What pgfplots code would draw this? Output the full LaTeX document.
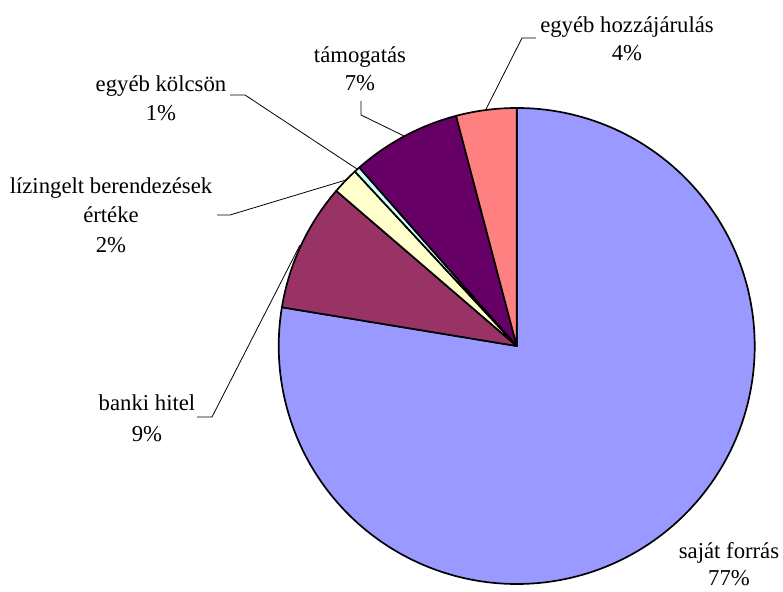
\documentclass[border=0pt]{standalone}
\usepackage{fontspec}
\setmainfont{Liberation Serif}
\usepackage{pgfplots}
\usepackage{pgfplotstable}
\pgfplotsset{compat=1.18}

\definecolor{slice1}{HTML}{9999FF}
\definecolor{slice2}{HTML}{993366}
\definecolor{slice3}{HTML}{FFFFCC}
\definecolor{slice4}{HTML}{CCFFFF}
\definecolor{slice5}{HTML}{660066}
\definecolor{slice6}{HTML}{FF8080}

% shares in percent, clockwise from 12 o'clock
\pgfplotstableread{
share colour
77.6  slice1
8.7   slice2
1.8   slice3
0.4   slice4
7.4   slice5
4.1   slice6
}\piedata
\pgfplotstablecreatecol[create col/expr={\pgfmathaccuma + \thisrow{share}}]{cum}\piedata

\newcommand{\lbl}[3]{\node[anchor=base, inner sep=0pt] at (axis cs:#1,#2) {#3};}

\begin{document}
\begin{tikzpicture}[every node/.append style={font=\fontsize{22.8}{28}\selectfont}]
\useasboundingbox (0,0) rectangle (783bp,592bp);
\begin{axis}[
    hide axis,
    scale only axis,
    width=783bp, height=592bp,
    xmin=0, xmax=783, ymin=0, ymax=592,
    clip=false,
    anchor=south west, at={(0,0)},
]
\pgfplotsextra{
  \pgfplotstablegetrowsof{\piedata}
  \pgfmathtruncatemacro{\lastrow}{\pgfplotsretval-1}
  \pgfplotsforeachungrouped \i in {0,...,\lastrow}{
    \pgfplotstablegetelem{\i}{share}\of\piedata \let\share\pgfplotsretval
    \pgfplotstablegetelem{\i}{cum}\of\piedata \let\cum\pgfplotsretval
    \pgfplotstablegetelem{\i}{colour}\of\piedata \let\col\pgfplotsretval
    \pgfmathsetmacro\angA{90-3.6*(\cum-\share)}
    \pgfmathsetmacro\angB{90-3.6*\cum}
    \filldraw[fill=\col, draw=black, line width=1.7pt, line join=round]
      (axis cs:516.7,246) -- ++(\angA:238bp)
      arc[start angle=\angA, end angle=\angB, radius=238bp] -- cycle;
  }
}

% leader lines
\draw[line width=0.8pt] (axis cs:536,554) -- (axis cs:522,554) -- (axis cs:485.6,482);
\draw[line width=0.8pt] (axis cs:361,491) -- (axis cs:361,477) -- (axis cs:404,456);
\draw[line width=0.8pt] (axis cs:230,497) -- (axis cs:245,497) -- (axis cs:357,423);
\draw[line width=0.8pt] (axis cs:217,377) -- (axis cs:230,377) -- (axis cs:346,412);
\draw[line width=0.8pt] (axis cs:197,175) -- (axis cs:212,175) -- (axis cs:300,347);

% labels
\lbl{627}{559}{egyéb hozzájárulás}
\lbl{627}{531}{4\%}
\lbl{360}{529}{támogatás}
\lbl{360}{501}{7\%}
\lbl{161}{500}{egyéb kölcsön}
\lbl{161}{471}{1\%}
\lbl{111}{398}{lízingelt berendezések}
\lbl{111}{369}{értéke}
\lbl{111}{339}{2\%}
\lbl{147}{181}{banki hitel}
\lbl{147}{150}{9\%}
\lbl{729}{33}{saját forrás}
\lbl{729}{7}{77\%}
\end{axis}
\end{tikzpicture}
\end{document}
